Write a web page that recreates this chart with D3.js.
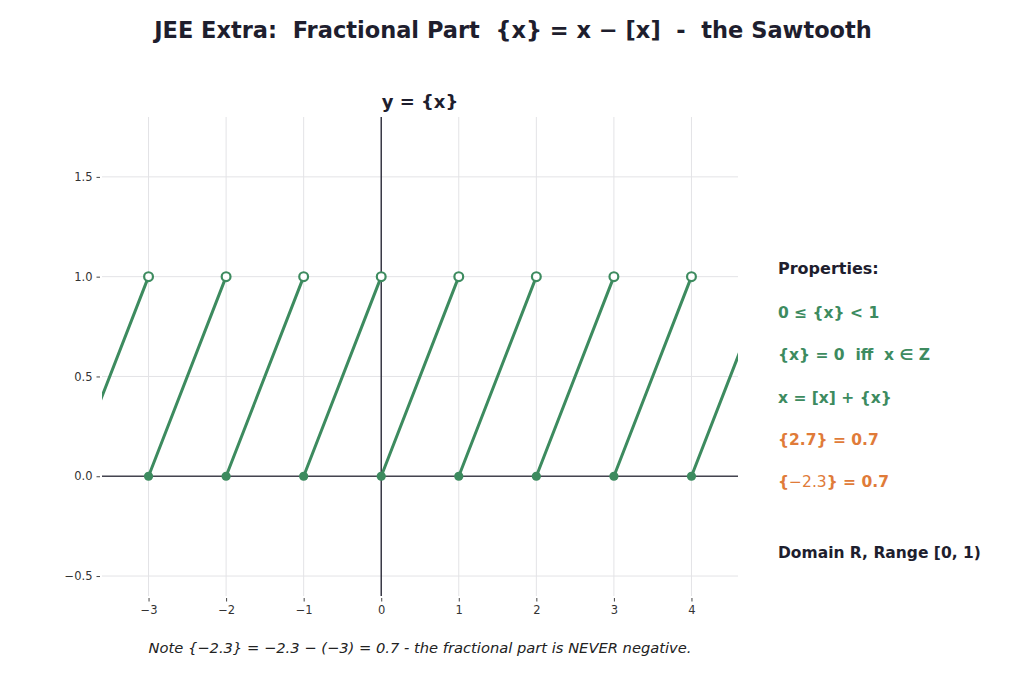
<!DOCTYPE html>
<html>
<head>
<meta charset="utf-8">
<script src="https://cdn.jsdelivr.net/npm/d3@7"></script>
<style>
  body { margin: 0; background: #fff; }
  text { font-family: "DejaVu Sans", sans-serif; white-space: pre; }
</style>
</head>
<body>
<svg id="chart" width="1024" height="683"></svg>
<script>
// data
var xDomain = [-3.6, 4.6];
var yDomain = [-0.6, 1.8];
var xTicks = [-3, -2, -1, 0, 1, 2, 3, 4];
var yTicks = [-0.5, 0.0, 0.5, 1.0, 1.5];
var toothStarts = [-4, -3, -2, -1, 0, 1, 2, 3, 4];   // {x} rises 0 -> 1 on [n, n+1)
var openPts = [-3, -2, -1, 0, 1, 2, 3, 4];           // (n, 1) excluded
var closedPts = [-3, -2, -1, 0, 1, 2, 3, 4];         // (n, 0) included
var props = [
  {t: "0 \u2264 {x} < 1", c: "green"},
  {t: "{x} = 0  iff  x \u2208 Z", c: "green"},
  {t: "x = [x] + {x}", c: "green"},
  {t: "{2.7} = 0.7", c: "orange"},
  {t: "{\u22122.3} = 0.7", c: "orange"}
];

var green = "#3d8b5f", orange = "#e07b39", dark = "#1e1e2e";

var svg = d3.select("#chart");
var L = 102, R = 738, T = 117, B = 596;

var x = d3.scaleLinear().domain(xDomain).range([L, R]);
var y = d3.scaleLinear().domain(yDomain).range([B, T]);

// grid
svg.append("g").selectAll("line").data(xTicks).enter().append("line")
  .attr("x1", x).attr("x2", x).attr("y1", T).attr("y2", B)
  .style("stroke", "#e3e3e6").style("stroke-width", 1);
svg.append("g").selectAll("line").data(yTicks).enter().append("line")
  .attr("x1", L).attr("x2", R).attr("y1", y).attr("y2", y)
  .style("stroke", "#e3e3e6").style("stroke-width", 1);

// axes (ticks only, no spines)
var xAxis = svg.append("g").attr("transform", "translate(0," + (B + 2) + ")")
  .call(d3.axisBottom(x).tickValues(xTicks).tickSize(3.5).tickPadding(4)
    .tickFormat(function(d){ return d < 0 ? "\u2212" + (-d) : d; }));
var yAxis = svg.append("g").attr("transform", "translate(" + (L - 2) + ",0)")
  .call(d3.axisLeft(y).tickValues(yTicks).tickSize(3.5).tickPadding(4)
    .tickFormat(function(d){ var s = d3.format(".1f")(Math.abs(d)); return d < 0 ? "\u2212" + s : s; }));
[xAxis, yAxis].forEach(function(a){
  a.select(".domain").remove();
  a.selectAll("line").style("stroke", "#444");
  a.selectAll("text").style("font-size", "11.5px").style("fill", "#333")
    .style("font-family", "DejaVu Sans, sans-serif");
});

// zero lines
svg.append("line").attr("x1", x(0)).attr("x2", x(0)).attr("y1", T).attr("y2", B)
  .style("stroke", dark).style("stroke-width", 1.3);
svg.append("line").attr("x1", L).attr("x2", R).attr("y1", y(0)).attr("y2", y(0))
  .style("stroke", "#444450").style("stroke-width", 1.5);

// sawtooth
svg.append("clipPath").attr("id", "clip").append("rect")
  .attr("x", L).attr("y", T).attr("width", R - L).attr("height", B - T);
var g = svg.append("g").attr("clip-path", "url(#clip)");
g.selectAll("line.tooth").data(toothStarts).enter().append("line").attr("class", "tooth")
  .attr("x1", function(n){ return x(n); }).attr("y1", y(0))
  .attr("x2", function(n){ return x(n + 1); }).attr("y2", y(1))
  .style("stroke", green).style("stroke-width", 3).style("stroke-linecap", "round");

svg.selectAll("circle.closed").data(closedPts).enter().append("circle").attr("class", "closed")
  .attr("cx", function(n){ return x(n); }).attr("cy", y(0)).attr("r", 4.6)
  .style("fill", green);
svg.selectAll("circle.open").data(openPts).enter().append("circle").attr("class", "open")
  .attr("cx", function(n){ return x(n); }).attr("cy", y(1)).attr("r", 4.4)
  .style("fill", "#fff").style("stroke", green).style("stroke-width", 2.2);

// titles
svg.append("text").attr("x", 513).attr("y", 38).attr("text-anchor", "middle")
  .style("font-size", "22.5px").style("font-weight", "bold").style("fill", dark)
  .text("JEE Extra:  Fractional Part  {x} = x \u2212 [x]  -  the Sawtooth");
svg.append("text").attr("x", 420).attr("y", 108).attr("text-anchor", "middle")
  .style("font-size", "18px").style("font-weight", "bold").style("fill", dark)
  .text("y = {x}");

// properties panel
svg.append("text").attr("x", 778).attr("y", 274)
  .style("font-size", "16px").style("font-weight", "bold").style("fill", dark)
  .text("Properties:");
props.forEach(function(p, i){
  var t = svg.append("text").attr("x", 778).attr("y", 318 + i * 42.3)
    .style("font-size", "15.5px").style("font-weight", "bold")
    .style("fill", p.c == "green" ? green : orange);
  if (p.t.indexOf("\u22122.3") >= 0) {
    t.append("tspan").text("{");
    t.append("tspan").style("font-weight", "normal").text("\u22122.3");
    t.append("tspan").text("} = 0.7");
  } else {
    t.text(p.t);
  }
});
svg.append("text").attr("x", 778).attr("y", 558)
  .style("font-size", "15.5px").style("font-weight", "bold").style("fill", dark)
  .text("Domain R, Range [0, 1)");

// note
svg.append("text").attr("x", 420).attr("y", 653).attr("text-anchor", "middle")
  .style("font-size", "14.7px").style("font-style", "italic").style("fill", "#222")
  .text("Note {\u22122.3} = \u22122.3 \u2212 (\u22123) = 0.7 - the fractional part is NEVER negative.");
</script>
</body>
</html>
